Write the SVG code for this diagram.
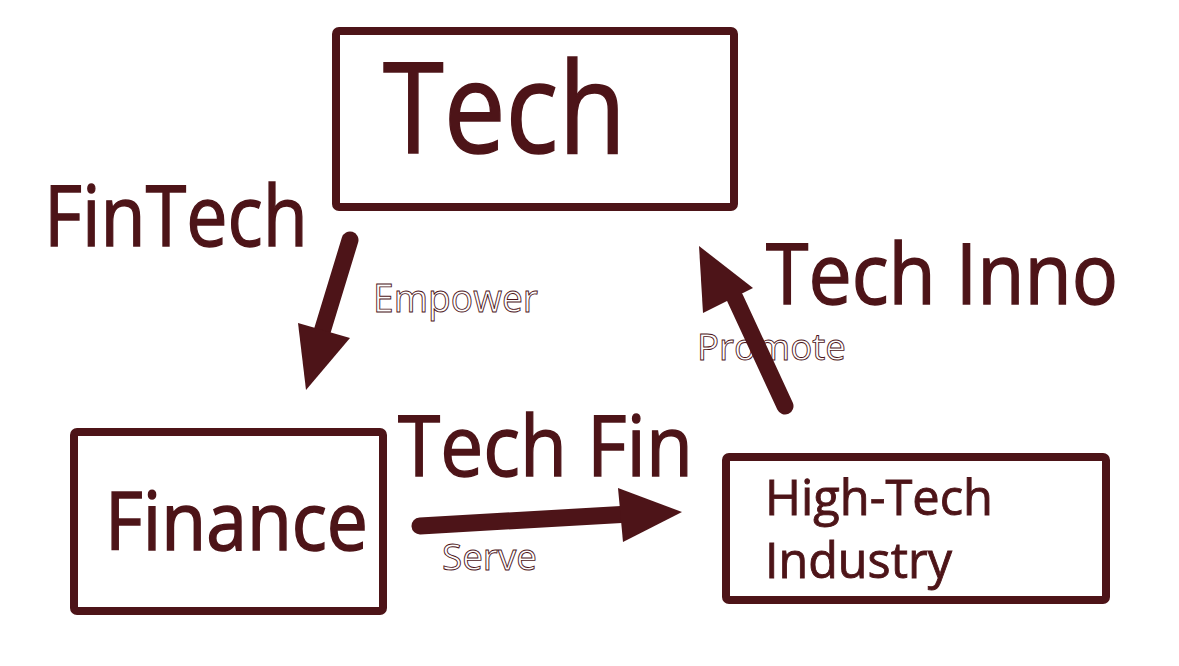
<svg xmlns="http://www.w3.org/2000/svg" width="1179" height="666" viewBox="0 0 1179 666">
<style>
.box{fill:#ffffff;stroke:#4d1418;stroke-width:8;stroke-linejoin:round}
.t{font-family:"Open Sans","Noto Sans",sans-serif;fill:#4d1418;stroke:#4d1418;stroke-width:1.6}
.big{font-family:"Open Sans","Noto Sans",sans-serif;fill:#4d1418;stroke:#4d1418;stroke-width:1.4}
.sm{stroke-width:0.9}
.lbl{font-family:"Open Sans","Noto Sans",sans-serif;fill:none;stroke:#4d1418;stroke-width:0.9}
.shaft{fill:none;stroke:#4d1418;stroke-width:17;stroke-linecap:round}
.head{fill:#4d1418}
</style>
<rect width="1179" height="666" fill="#ffffff"/>
<g id="node-tech">
<rect class="box" x="336" y="31" width="398" height="176" rx="3"/>
<text class="t" x="383" y="153" font-size="126" textLength="243" lengthAdjust="spacingAndGlyphs" stroke-width="2.2">Tech</text>
</g>
<g id="node-finance">
<rect class="box" x="74" y="432" width="309" height="179" rx="3"/>
<text class="t" x="105" y="550" font-size="80" textLength="263" lengthAdjust="spacingAndGlyphs">Finance</text>
</g>
<g id="node-hightech">
<rect class="box" x="726" y="457" width="380" height="143" rx="3"/>
<text class="t sm" x="765" y="515" font-size="50" textLength="228" lengthAdjust="spacingAndGlyphs">High-Tech</text>
<text class="t sm" x="765" y="578" font-size="50" textLength="187" lengthAdjust="spacingAndGlyphs">Industry</text>
</g>
<g id="connectors">
<path class="shaft" d="M350,240 L318,345"/>
<polygon class="head" points="306,390 298,323 350,338"/>
<path class="shaft" d="M420,526 L630,514"/>
<polygon class="head" points="682,512 618,488 623,542"/>
<path class="shaft" d="M785,406 L735,298"/>
<polygon class="head" points="699,246 703,313 753,288"/>
</g>
<g id="labels">
<text class="big" x="44" y="246" font-size="84" textLength="264" lengthAdjust="spacingAndGlyphs">FinTech</text>
<text class="big" x="766" y="304" font-size="84" textLength="352" lengthAdjust="spacingAndGlyphs">Tech Inno</text>
<text class="big" x="398" y="476" font-size="84" textLength="295" lengthAdjust="spacingAndGlyphs">Tech Fin</text>
<text class="lbl" x="373" y="312" font-size="38" textLength="165" lengthAdjust="spacingAndGlyphs">Empower</text>
<text class="lbl" x="442" y="570" font-size="37" textLength="95" lengthAdjust="spacingAndGlyphs">Serve</text>
<text class="lbl" x="697" y="360" font-size="37" textLength="149" lengthAdjust="spacingAndGlyphs">Promote</text>
</g>
</svg>
